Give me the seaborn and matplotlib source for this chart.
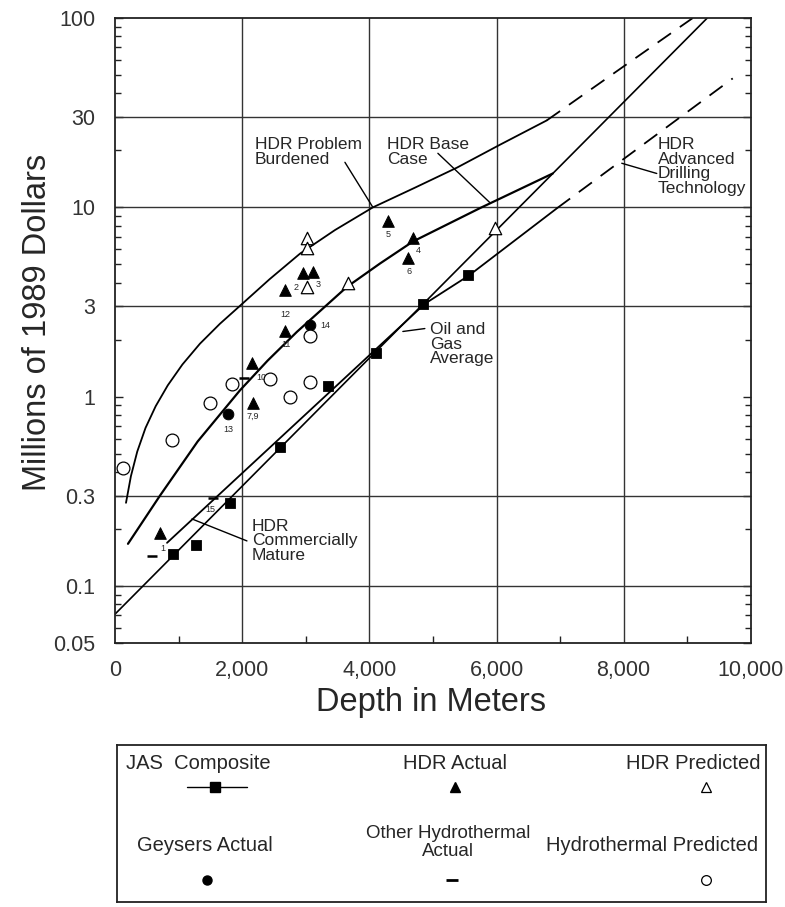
import matplotlib
matplotlib.use('Agg')
import matplotlib.pyplot as plt
import seaborn as sns

sns.set_theme(style='ticks')
plt.rcParams['font.family'] = ['Liberation Sans', 'DejaVu Sans']

# ---- curves (depth m, millions of 1989 $) ----
pb_depth = [173, 250, 350, 480, 640, 830, 1060, 1336, 1650, 1966, 2430, 2908, 3460, 4056, 4716, 5376, 6052, 6791]
pb_cost = [0.275, 0.380, 0.513, 0.684, 0.891, 1.148, 1.479, 1.905, 2.427, 3.02, 4.17, 5.69, 7.59, 10.0,
           12.7, 16.2, 21.4, 28.8]
pb_ext_depth = [6791, 7624, 8410, 9086]
pb_ext_cost = [28.8, 45.3, 69.4, 100]
base_depth = [204, 707, 1300, 1965, 2400, 2861, 3647, 4167, 4685, 5738, 6885]
base_cost = [0.167, 0.30, 0.58, 1.08, 1.55, 2.2, 3.8, 5.05, 6.6, 9.9, 15.1]
og_depth = [0, 9314]
og_cost = [0.071, 100]
cm_depth = [818, 4876, 5568, 6952]
cm_cost = [0.169, 3.1, 4.37, 9.9]
adt_depth = [6952, 9715]
adt_cost = [9.9, 48]

# ---- data points ----
jas_depth = [913, 1276, 1811, 2599, 3355, 4111, 4851, 5544]
jas_cost = [0.148, 0.165, 0.275, 0.54, 1.14, 1.71, 3.1, 4.37]
hdr_act_depth = [707, 2170, 2154, 2672, 2672, 2955, 3113, 4291, 4685, 4606]
hdr_act_cost = [0.19, 0.93, 1.5, 2.23, 3.64, 4.48, 4.53, 8.5, 6.86, 5.43]
hdr_act_label = ['1', '7,9', '10', '11', '12', '2', '3', '5', '4', '6']
hdr_pred_depth = [3018, 3018, 3018, 3663, 5974]
hdr_pred_cost = [6.9, 6.07, 3.8, 4.0, 7.8]
gey_depth = [1776, 3065]
gey_cost = [0.81, 2.38]
gey_label = ['13', '14']
oth_depth = [582, 1540, 2028]
oth_cost = [0.144, 0.29, 1.26]
oth_label = ['', '15', '']
hyd_depth = [126, 896, 1493, 1839, 2437, 2751, 3065, 3065]
hyd_cost = [0.42, 0.59, 0.93, 1.17, 1.24, 0.99, 1.19, 2.1]

x_ticks = [0, 2000, 4000, 6000, 8000, 10000]
x_labels = ['0', '2,000', '4,000', '6,000', '8,000', '10,000']
y_ticks = [0.05, 0.1, 0.3, 1, 3, 10, 30, 100]
y_labels = ['0.05', '0.1', '0.3', '1', '3', '10', '30', '100']
y_grid = [0.1, 0.3, 3, 10, 30]

fig = plt.figure(figsize=(7.85, 9.07), dpi=100)
ax = fig.add_axes([0.1465, 0.2911, 0.810, 0.689])
ax.set_yscale('log')
ax.set_xlim(0, 10000)
ax.set_ylim(0.05, 100)

for g in x_ticks[1:-1]:
    ax.axvline(g, color='#333333', lw=1.0, zorder=1)
for g in y_grid:
    ax.axhline(g, color='#333333', lw=1.0, zorder=1)

ink = 'black'
sns.lineplot(x=pb_depth, y=pb_cost, sort=False, estimator=None, color=ink, lw=1.3, ax=ax)
sns.lineplot(x=pb_ext_depth, y=pb_ext_cost, sort=False, estimator=None, color=ink, lw=1.3,
             ax=ax).lines[-1].set_dashes([9, 6])
sns.lineplot(x=base_depth, y=base_cost, sort=False, estimator=None, color=ink, lw=1.6, ax=ax)
sns.lineplot(x=og_depth, y=og_cost, sort=False, estimator=None, color=ink, lw=1.2, ax=ax)
sns.lineplot(x=cm_depth, y=cm_cost, sort=False, estimator=None, color=ink, lw=1.3, ax=ax)
sns.lineplot(x=adt_depth, y=adt_cost, sort=False, estimator=None, color=ink, lw=1.3,
             ax=ax).lines[-1].set_dashes([9, 6])

sns.scatterplot(x=jas_depth, y=jas_cost, marker='s', color=ink, s=55, edgecolor=ink, zorder=5, ax=ax)
sns.scatterplot(x=hdr_act_depth, y=hdr_act_cost, marker='^', color=ink, s=70, edgecolor=ink, zorder=5, ax=ax)
sns.scatterplot(x=hdr_pred_depth, y=hdr_pred_cost, marker='^', color='white', s=80, edgecolor=ink,
                linewidth=0.9, zorder=5, ax=ax)
sns.scatterplot(x=gey_depth, y=gey_cost, marker='o', color=ink, s=60, edgecolor=ink, zorder=5, ax=ax)
sns.scatterplot(x=hyd_depth, y=hyd_cost, marker='o', color='white', s=85, edgecolor=ink,
                linewidth=0.9, zorder=5, ax=ax)
ax.scatter(oth_depth, oth_cost, marker='_', color=ink, s=60, linewidths=1.8, zorder=5)

# small numbers next to the points
act_off = [(2, -11), (0, -10), (7, -10), (1, -10), (0, -17), (-5, -10), (4, -9), (0, -10), (4, -9), (1, -10)]
for x, y, t, o in zip(hdr_act_depth, hdr_act_cost, hdr_act_label, act_off):
    ax.annotate(t, (x, y), xytext=o, textcoords='offset points', fontsize=6.5, ha='center', va='center')
for x, y, t, o in zip(gey_depth, gey_cost, gey_label, [(0, -11), (11, 0)]):
    ax.annotate(t, (x, y), xytext=o, textcoords='offset points', fontsize=6.5, ha='center', va='center')
for x, y, t in zip(oth_depth, oth_cost, oth_label):
    ax.annotate(t, (x, y), xytext=(-2, -8), textcoords='offset points', fontsize=6.5, ha='center', va='center')

# curve names and pointers
lab = dict(fontsize=12.5, linespacing=0.95, va='top', ha='left')
ax.text(2201, 23.4, 'HDR Problem\nBurdened', **lab)
ax.text(4276, 23.4, 'HDR Base\nCase', **lab)
ax.text(8536, 23.4, 'HDR\nAdvanced\nDrilling\nTechnology', **lab)
ax.text(4952, 2.47, 'Oil and\nGas\nAverage', **lab)
ax.text(2154, 0.226, 'HDR\nCommercially\nMature', **lab)
ptr = dict(color=ink, lw=1.0)
ax.plot([3616, 4056], [17.3, 10.0], **ptr)
ax.plot([5078, 5895], [19.3, 10.6], **ptr)
ax.plot([8520, 7970], [15.1, 17.1], **ptr)
ax.plot([4873, 4527], [2.29, 2.21], **ptr)
ax.plot([2075, 1210], [0.173, 0.226], **ptr)

ax.set_xticks(x_ticks)
ax.set_xticklabels(x_labels)
ax.set_xticks([1000, 3000, 5000, 7000, 9000], minor=True)
ax.set_yticks(y_ticks)
ax.set_yticklabels(y_labels)
ax.yaxis.set_minor_locator(matplotlib.ticker.LogLocator(base=10, subs=range(2, 10)))
ax.yaxis.set_minor_formatter(matplotlib.ticker.NullFormatter())
ax.tick_params(axis='both', which='both', direction='in', colors='#222222', labelcolor='#333333',
               labelsize=15.5, width=1.0)
ax.tick_params(axis='y', which='major', length=6, right=True, pad=14)
ax.tick_params(axis='y', which='minor', length=4, right=True)
ax.tick_params(axis='x', which='major', length=0, pad=12)
ax.tick_params(axis='x', which='minor', length=5)
for s in ax.spines.values():
    s.set_color('#222222')
    s.set_linewidth(1.3)
ax.set_xlabel('')
ax.set_ylabel('')

fig.text(431 / 785, 1 - 702 / 907, 'Depth in Meters', fontsize=23.5, ha='center', va='center')
fig.text(38 / 785, 1 - 322 / 907, 'Millions of 1989 Dollars', fontsize=23.5, rotation=90,
         ha='center', va='center')

# legend box
lg = fig.add_axes([117 / 785, 5 / 907, 649 / 785, 157 / 907])
lg.set_xlim(0, 1)
lg.set_ylim(0, 1)
lg.set_xticks([])
lg.set_yticks([])
for s in lg.spines.values():
    s.set_color('#222222')
    s.set_linewidth(1.3)
lt = dict(fontsize=14.5, ha='center', va='center')
lg.text(0.125, 0.885, 'JAS  Composite', **lt)
lg.text(0.521, 0.885, 'HDR Actual', **lt)
lg.text(0.888, 0.885, 'HDR Predicted', **lt)
lg.text(0.136, 0.363, 'Geysers Actual', **lt)
lg.text(0.51, 0.38, 'Other Hydrothermal\nActual', linespacing=1.1, fontsize=13.5, ha='center', va='center')
lg.text(0.825, 0.363, 'Hydrothermal Predicted', **lt)
lg.plot([0.108, 0.2], [0.732, 0.732], color=ink, lw=1.0)
lg.plot([0.151], [0.732], marker='s', color=ink, ms=7)
lg.plot([0.521], [0.732], marker='^', color=ink, ms=7)
lg.plot([0.907], [0.732], marker='^', mfc='white', mec=ink, ms=7, mew=0.9)
lg.plot([0.139], [0.14], marker='o', color=ink, ms=6.5)
lg.plot([0.516], [0.14], marker='_', color=ink, ms=8, mew=2)
lg.plot([0.907], [0.14], marker='o', mfc='white', mec=ink, ms=7, mew=0.9)

fig.savefig('out.png', dpi=100)
